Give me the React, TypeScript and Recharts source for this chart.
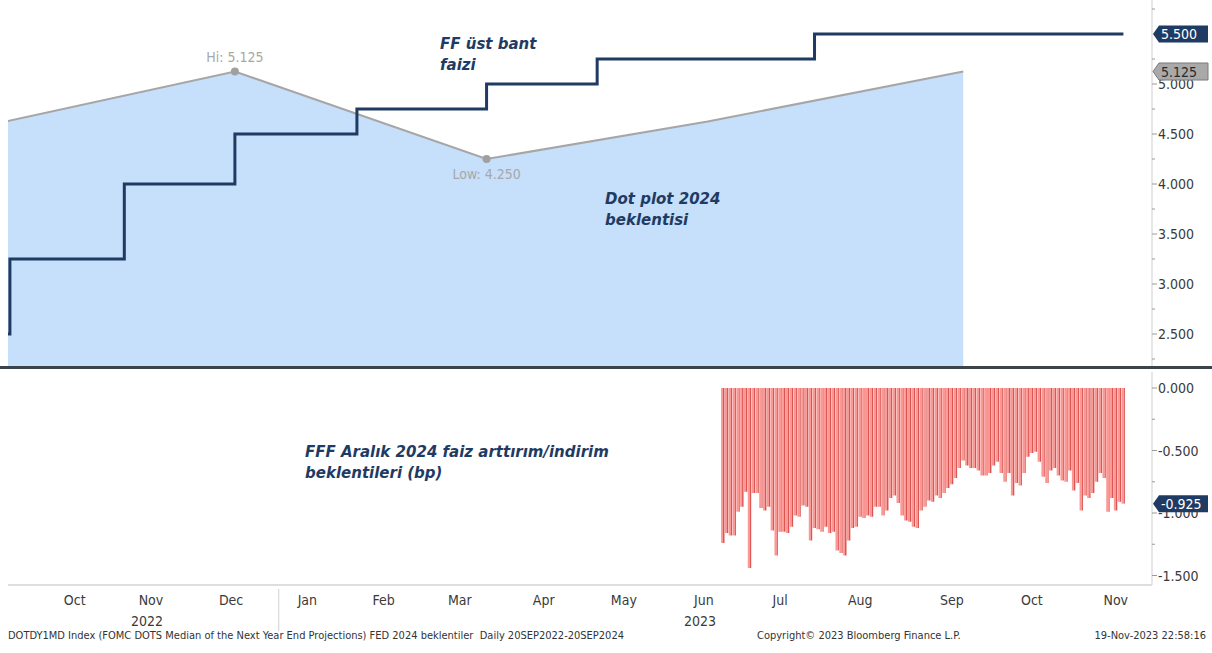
import React from 'react';
import { ComposedChart, Area, Line, Bar, XAxis, YAxis, ReferenceDot } from 'recharts';

// trading-day axis (weekdays minus US market holidays), counted from START
const START = '2022-09-20';
const HOLIDAYS = [
  '2022-11-24', '2022-12-26', '2023-01-02', '2023-01-16', '2023-02-20',
  '2023-04-07', '2023-05-29', '2023-06-19', '2023-07-04', '2023-09-04',
];

// FF upper bound (step)
const FF_DATES = ['2022-09-20', '2022-09-21', '2022-11-02', '2022-12-14', '2023-02-01', '2023-03-22', '2023-05-03', '2023-07-26', '2023-11-17'];
const FF_RATES = [2.5, 3.25, 4.0, 4.5, 4.75, 5.0, 5.25, 5.5, 5.5];

// FOMC dots, median next year end
const DOT_DATES = ['2022-09-20', '2022-12-14', '2023-03-22', '2023-06-14', '2023-09-20'];
const DOT_VALUES = [4.625, 5.125, 4.25, 4.625, 5.125];

// FFF Dec 2024 implied change, daily from FFF_START
const FFF_START = '2023-06-21';
const FFF_VALUES = [
  -1.24, -1.16, -1.18, -1.18, -0.99, -0.95, -0.83, -1.44, -0.84, -0.84,
  -0.96, -0.98, -0.95, -1.14, -1.34, -1.15, -1.15, -1.16, -1.11, -1.02,
  -1.03, -0.94, -0.95, -1.22, -1.12, -1.13, -1.15, -1.11, -1.16, -1.15,
  -1.30, -1.32, -1.34, -1.22, -1.12, -1.11, -1.03, -1.04, -1.02, -1.03,
  -0.95, -0.95, -1.02, -0.98, -0.88, -0.86, -0.92, -1.02, -1.06, -1.07,
  -1.11, -1.12, -0.98, -0.95, -0.90, -0.91, -0.86, -0.88, -0.84, -0.80,
  -0.77, -0.72, -0.64, -0.58, -0.62, -0.64, -0.64, -0.66, -0.70, -0.70,
  -0.68, -0.62, -0.59, -0.68, -0.75, -0.68, -0.86, -0.76, -0.78, -0.68,
  -0.55, -0.52, -0.51, -0.59, -0.71, -0.76, -0.66, -0.64, -0.70, -0.74,
  -0.75, -0.66, -0.82, -0.76, -0.98, -0.86, -0.88, -0.84, -0.75, -0.68,
  -0.72, -0.99, -0.88, -0.98, -0.91, -0.925,
];

const MONTH_DATES = ['2022-10-14', '2022-11-11', '2022-12-13', '2023-01-12', '2023-02-10', '2023-03-13', '2023-04-13', '2023-05-12', '2023-06-13', '2023-07-13', '2023-08-11', '2023-09-15', '2023-10-16', '2023-11-15'];
const MONTH_LABELS = ['Oct', 'Nov', 'Dec', 'Jan', 'Feb', 'Mar', 'Apr', 'May', 'Jun', 'Jul', 'Aug', 'Sep', 'Oct', 'Nov'];
const YEAR_LABELS = ['', '2022', '', '', '', '', '', '', '2023', '', '', '', '', ''];
const YEAR_BREAK = '2022-12-30';

// 5.500 sits under the last-value badge, so it is left out
const TOP_TICKS = [2.25, 2.5, 2.75, 3, 3.25, 3.5, 3.75, 4, 4.25, 4.5, 4.75, 5, 5.25, 5.75];
const BOTTOM_TICKS = [-1.5, -1.25, -1, -0.75, -0.5, -0.25, 0];

const holidaySet = new Set(HOLIDAYS);
function tradingIndex(date: string): number {
  const end = new Date(date + 'T00:00:00Z');
  const d = new Date(START + 'T00:00:00Z');
  let n = 0;
  while (d < end) {
    d.setUTCDate(d.getUTCDate() + 1);
    const wd = d.getUTCDay();
    if (wd !== 0 && wd !== 6 && !holidaySet.has(d.toISOString().slice(0, 10))) n++;
  }
  return n;
}

const lastIdx = tradingIndex('2023-11-17');
const X_DOMAIN: [number, number] = [0.5, lastIdx + 7.5];
const TOP_DOMAIN: [number, number] = [2.17, 5.84];
const BOTTOM_DOMAIN: [number, number] = [-1.576, 0.128];

const ffData = FF_DATES.map((d, i) => ({ t: tradingIndex(d), v: FF_RATES[i] }));
const dotData = DOT_DATES.map((d, i) => ({ t: tradingIndex(d), v: DOT_VALUES[i] }));
const fffStart = tradingIndex(FFF_START);
const fffData = FFF_VALUES.map((v, i) => ({ t: fffStart + i, v }));

const monthTicks = MONTH_DATES.map((d) => tradingIndex(d));
const yearBreak = tradingIndex(YEAR_BREAK) + 0.5;
const xTicks = [...monthTicks, yearBreak];

const NAVY = '#1f3b63';
const FONT = "'Liberation Sans Narrow', 'DejaVu Sans Condensed', 'Liberation Sans', Arial, sans-serif";

function YTick(props: any) {
  const { x, y, payload } = props;
  const v = payload.value as number;
  const major = Math.abs(v * 2 - Math.round(v * 2)) < 1e-6;
  return (
    <g>
      <line x1={x} x2={x + (major ? 5 : 3)} y1={y} y2={y} stroke="#9a9a9a" />
      {major && (
        <text x={x + 6} y={y} dy={5} fontSize={14} fill="#3a3a3a" fontFamily={FONT}>
          {v.toFixed(3)}
        </text>
      )}
    </g>
  );
}

function XTick(props: any) {
  const { x, y, payload } = props;
  const i = monthTicks.indexOf(payload.value);
  if (i < 0) {
    return <line x1={x} x2={x} y1={y + 4} y2={y + 46} stroke="#d0d0d0" />;
  }
  return (
    <g fontFamily={FONT} fontSize={14} fill="#3a3a3a">
      <text x={x} y={y + 20} textAnchor="middle">{MONTH_LABELS[i]}</text>
      {YEAR_LABELS[i] && <text x={x - 4} y={y + 41} textAnchor="middle">{YEAR_LABELS[i]}</text>}
    </g>
  );
}

function badge(text: string, fill: string, color: string, stroke?: string) {
  return (p: any) => {
    const x0 = p.cx + 1;
    const h = 17;
    const w = 55;
    const d = `M${x0},${p.cy} L${x0 + 6},${p.cy - h / 2} L${x0 + w},${p.cy - h / 2} L${x0 + w},${p.cy + h / 2} L${x0 + 6},${p.cy + h / 2} Z`;
    return (
      <g>
        <path d={d} fill={fill} stroke={stroke || 'none'} />
        <text x={x0 + 8} y={p.cy} dy={5} fontSize={14} fill={color} fontFamily={FONT}>{text}</text>
      </g>
    );
  };
}

const noteStyle: React.CSSProperties = {
  position: 'absolute',
  fontFamily: "'DejaVu Sans', Verdana, sans-serif",
  fontWeight: 'bold',
  fontStyle: 'italic',
  fontSize: 15,
  lineHeight: '21px',
  color: NAVY,
  whiteSpace: 'nowrap',
};

const footStyle: React.CSSProperties = {
  position: 'absolute',
  top: 629,
  fontFamily: FONT,
  fontSize: 11,
  color: '#333',
  whiteSpace: 'nowrap',
};

const layer: React.CSSProperties = { position: 'absolute', left: 0 };

export default function App() {
  return (
    <div style={{ position: 'relative', width: 1212, height: 653, background: '#fff', overflow: 'hidden' }}>
      <style>{'body{margin:0}'}</style>

      <div style={{ ...layer, top: 0 }}>
        <ComposedChart width={1212} height={367} margin={{ top: 0, right: 0, bottom: 0, left: 8 }}>
          <XAxis type="number" dataKey="t" domain={X_DOMAIN} allowDataOverflow hide />
          <YAxis
            orientation="right"
            type="number"
            domain={TOP_DOMAIN}
            allowDataOverflow
            ticks={TOP_TICKS}
            interval={0}
            width={60}
            axisLine={{ stroke: '#cfcfcf' }}
            tickLine={false}
            tickSize={0}
            tickMargin={0}
            tick={<YTick />}
          />
          <Area
            data={dotData}
            dataKey="v"
            type="linear"
            baseValue="dataMin"
            stroke="#a6a6a6"
            strokeWidth={2}
            fill="#c6dffa"
            fillOpacity={1}
            dot={false}
            activeDot={false}
            isAnimationActive={false}
          />
          <Line
            data={ffData}
            dataKey="v"
            type="stepAfter"
            stroke={NAVY}
            strokeWidth={3}
            dot={false}
            activeDot={false}
            isAnimationActive={false}
          />
          <ReferenceDot
            x={tradingIndex('2022-12-14')}
            y={5.125}
            r={4}
            fill="#a0a0a0"
            stroke="none"
            label={{ value: 'Hi: 5.125', position: 'top', fill: '#a8a8a8', fontSize: 14, fontFamily: FONT, offset: 6 }}
          />
          <ReferenceDot
            x={tradingIndex('2023-03-22')}
            y={4.25}
            r={4}
            fill="#a0a0a0"
            stroke="none"
            label={{ value: 'Low: 4.250', position: 'bottom', fill: '#a8a8a8', fontSize: 14, fontFamily: FONT, offset: 6 }}
          />
        </ComposedChart>
      </div>

      {/* last-value badges, drawn over the axis labels */}
      <div style={{ ...layer, top: 0, pointerEvents: 'none' }}>
        <ComposedChart width={1212} height={367} margin={{ top: 0, right: 0, bottom: 0, left: 8 }}>
          <XAxis type="number" dataKey="t" domain={X_DOMAIN} allowDataOverflow hide />
          <YAxis orientation="right" type="number" domain={TOP_DOMAIN} allowDataOverflow width={60} axisLine={false} tickLine={false} tick={false} />
          <ReferenceDot x={X_DOMAIN[1]} y={5.125} r={0} ifOverflow="visible" shape={badge('5.125', '#a9a9a9', '#2a2a2a', '#7a7a7a')} />
          <ReferenceDot x={X_DOMAIN[1]} y={5.5} r={0} ifOverflow="visible" shape={badge('5.500', NAVY, '#ffffff')} />
        </ComposedChart>
      </div>

      <div style={{ position: 'absolute', left: 0, top: 366, width: 1212, height: 3, background: '#3b434d' }} />

      <div style={{ ...layer, top: 372 }}>
        <ComposedChart width={1212} height={268} data={fffData} margin={{ top: 0, right: 0, bottom: 0, left: 8 }}>
          <defs>
            <linearGradient id="fffBar" x1="0" y1="0" x2="1" y2="0">
              <stop offset="0" stopColor="#f99894" />
              <stop offset="0.68" stopColor="#f99894" />
              <stop offset="0.69" stopColor="#db5652" />
              <stop offset="1" stopColor="#db5652" />
            </linearGradient>
          </defs>
          <XAxis
            type="number"
            dataKey="t"
            domain={X_DOMAIN}
            allowDataOverflow
            ticks={xTicks}
            interval={0}
            height={55}
            axisLine={{ stroke: '#bdbdbd' }}
            tickLine={false}
            tickSize={0}
            tickMargin={0}
            tick={<XTick />}
          />
          <YAxis
            orientation="right"
            type="number"
            domain={BOTTOM_DOMAIN}
            allowDataOverflow
            ticks={BOTTOM_TICKS}
            interval={0}
            width={60}
            axisLine={{ stroke: '#cfcfcf' }}
            tickLine={false}
            tickSize={0}
            tickMargin={0}
            tick={<YTick />}
          />
          <Bar dataKey="v" barSize={3.4} fill="url(#fffBar)" isAnimationActive={false} />
        </ComposedChart>
      </div>

      <div style={{ ...layer, top: 372, pointerEvents: 'none' }}>
        <ComposedChart width={1212} height={268} data={fffData} margin={{ top: 0, right: 0, bottom: 0, left: 8 }}>
          <XAxis type="number" dataKey="t" domain={X_DOMAIN} allowDataOverflow height={55} axisLine={false} tickLine={false} tick={false} />
          <YAxis orientation="right" type="number" domain={BOTTOM_DOMAIN} allowDataOverflow width={60} axisLine={false} tickLine={false} tick={false} />
          <ReferenceDot x={X_DOMAIN[1]} y={-0.925} r={0} ifOverflow="visible" shape={badge('-0.925', NAVY, '#ffffff')} />
        </ComposedChart>
      </div>

      <div style={{ ...noteStyle, left: 440, top: 34 }}>FF üst bant<br />faizi</div>
      <div style={{ ...noteStyle, left: 605, top: 189 }}>Dot plot 2024<br />beklentisi</div>
      <div style={{ ...noteStyle, left: 305, top: 442 }}>FFF Aralık 2024 faiz arttırım/indirim<br />beklentileri (bp)</div>

      <div style={{ ...footStyle, left: 8 }}>
        DOTDY1MD Index (FOMC DOTS Median of the Next Year End Projections) FED 2024 beklentiler&nbsp;&nbsp;Daily 20SEP2022-20SEP2024
      </div>
      <div style={{ ...footStyle, left: 757 }}>Copyright© 2023 Bloomberg Finance L.P.</div>
      <div style={{ ...footStyle, right: 6 }}>19-Nov-2023 22:58:16</div>
    </div>
  );
}
